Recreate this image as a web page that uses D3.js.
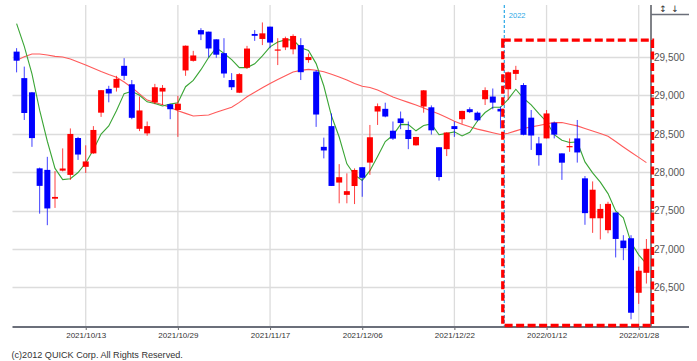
<!DOCTYPE html>
<html><head><meta charset="utf-8">
<script src="https://cdn.jsdelivr.net/npm/d3@7"></script>
<style>html,body{margin:0;padding:0;background:#fff;}svg{display:block}</style>
</head><body>
<svg id="c" width="697" height="361"></svg>
<script>
const dates = ["2021/09/30",
"2021/10/01","2021/10/04","2021/10/05","2021/10/06","2021/10/07","2021/10/08","2021/10/11","2021/10/12","2021/10/13","2021/10/14","2021/10/15","2021/10/18","2021/10/19","2021/10/20","2021/10/21","2021/10/22","2021/10/25","2021/10/26","2021/10/27","2021/10/28","2021/10/29",
"2021/11/01","2021/11/02","2021/11/04","2021/11/05","2021/11/08","2021/11/09","2021/11/10","2021/11/11","2021/11/12","2021/11/15","2021/11/16","2021/11/17","2021/11/18","2021/11/19","2021/11/22","2021/11/24","2021/11/25","2021/11/26","2021/11/29","2021/11/30",
"2021/12/01","2021/12/02","2021/12/03","2021/12/06","2021/12/07","2021/12/08","2021/12/09","2021/12/10","2021/12/13","2021/12/14","2021/12/15","2021/12/16","2021/12/17","2021/12/20","2021/12/21","2021/12/22","2021/12/23","2021/12/24","2021/12/27","2021/12/28","2021/12/29","2021/12/30",
"2022/01/04","2022/01/05","2022/01/06","2022/01/07","2022/01/11","2022/01/12","2022/01/13","2022/01/14","2022/01/17","2022/01/18","2022/01/19","2022/01/20","2022/01/21","2022/01/24","2022/01/25","2022/01/26","2022/01/27","2022/01/28","2022/01/31"];

const open = [29570,29225,29040,28050,28030,27655,28020,27965,28445,28070,28245,28775,29085,29100,29385,29145,28565,28505,28910,29050,28885,28810,
29325,29450,29850,29830,29730,29550,29200,29035,29360,29800,29735,29895,29585,29625,29600,29655,29460,29310,28330,28600,
27865,27705,27820,28065,28125,28790,28825,28540,28700,28550,28350,28855,28845,28325,28300,28600,28690,28820,28775,28950,28985,28825,
29080,29280,29135,28710,28375,28440,28645,28245,28325,28440,27920,27400,27400,27245,27475,27110,27140,26430,26690];
const high = [29615,29375,29045,28060,28200,28015,28310,28570,28460,28350,28600,29070,29125,29255,29485,29200,28985,28660,29150,29135,28890,28995,
29650,29580,29875,29830,29730,29745,29290,29290,29645,29850,29950,29895,29745,29765,29795,29745,29545,29330,28450,28765,
28105,27985,28050,28065,28615,28895,28905,28660,28790,28660,28460,29070,28870,28325,28520,28660,28800,28845,28790,29105,29090,28855,
29310,29385,29160,28810,28460,28810,28660,28245,28440,28680,27950,27880,27585,27615,27475,27180,27180,26770,27130];
const low = [29300,28680,28330,27460,27310,27535,28010,27900,28160,27990,28240,28720,28910,29050,29200,28690,28535,28475,28885,28875,28690,28460,
29255,29440,29720,29495,29490,29230,29070,29030,29345,29710,29655,29615,29395,29590,29535,29200,29425,28590,28180,27820,
27595,27595,27585,27680,27965,28615,28715,28420,28560,28300,28345,28775,28490,27890,28210,28460,28630,28770,28660,28875,28820,28570,
28940,29200,28480,28290,28085,28440,28440,27900,28265,28125,27315,27210,27125,27205,26890,26855,26085,26285,26550];
const close = [29452,28771,28444,27822,27528,27678,28048,28498,28230,28140,28550,29068,29025,29215,29255,28708,28804,28600,29106,29098,28820,28892,
29647,29520,29794,29611,29530,29285,29106,29277,29610,29776,29808,29688,29598,29745,29774,29302,29499,28751,28283,27821,
27935,27753,28029,27927,28455,28860,28725,28437,28640,28432,28459,29066,28545,27937,28517,28562,28798,28782,28676,29069,28906,28791,
29301,29332,28487,28478,28222,28765,28489,28124,28340,28257,27467,27772,27522,27588,27131,27011,26170,26717,27002];
const ma5 = [29934,29638,29279,28807,28403,28049,27904,27915,27996,28119,28293,28497,28603,28800,29023,29054,29001,28916,28895,28863,28886,28903,
29113,29195,29335,29493,29620,29548,29465,29362,29362,29411,29515,29632,29696,29723,29723,29621,29584,29414,29122,28731,
28458,28109,27964,27893,28020,28205,28399,28481,28623,28619,28539,28607,28628,28488,28505,28525,28472,28519,28667,28777,28846,28845,
28949,29080,28963,28878,28764,28657,28488,28416,28387,28394,28134,27991,27870,27721,27496,27405,27084,26923,26806];
const ma25 = [29456,29504,29539,29539,29527,29508,29500,29475,29435,29396,29354,29312,29273,29237,29174,29103,29020,28939,28909,28879,28843,28800,
28766,28732,28738,28745,28780,28813,28845,28909,28983,29040,29099,29155,29206,29255,29305,29326,29339,29328,29307,29276,
29241,29199,29156,29119,29102,29070,29026,28980,28944,28909,28875,28837,28797,28758,28711,28663,28624,28591,28561,28538,28514,28491,
28508,28538,28569,28590,28609,28629,28648,28646,28624,28603,28570,28537,28503,28469,28399,28328,28260,28193,28125];
const yTicks = [26500,27000,27500,28000,28500,29000,29500];
const xTickLabels = ["2021/10/13","2021/10/29","2021/11/17","2021/12/06","2021/12/22","2022/01/12","2022/01/28"];
const yearLabel = "2022";
const yearStart = "2022/01/04";
const highlightStart = "2022/01/04";
const highlightTop = 29720;
const copyright = "(c)2012 QUICK Corp. All Rights Reserved.";

const svg = d3.select("#c");
svg.append("rect").attr("width",697).attr("height",361).attr("fill","#fff");
const P = {left:12.5, right:651, top:5, bottom:327, axisEnd:689};
const x = d3.scalePoint().domain(dates).range([16.6, 646.4]);
const step = x.step();
const y = d3.scaleLinear().domain([26500,29500]).range([287.4,57]);

// grid
const g = svg.append("g");
g.selectAll("line.h").data(yTicks).enter().append("line")
  .attr("x1",P.left).attr("x2",P.right).attr("y1",d=>Math.round(y(d))+0.5).attr("y2",d=>Math.round(y(d))+0.5)
  .attr("stroke","#dcdcdc").attr("stroke-width",1.3);
g.selectAll("line.v").data(xTickLabels).enter().append("line")
  .attr("x1",d=>x(d)).attr("x2",d=>x(d)).attr("y1",P.top).attr("y2",P.bottom)
  .attr("stroke","#dcdcdc").attr("stroke-width",1.3);

// year divider
const yx = x(yearStart) - step/2;
svg.append("line").attr("x1",yx).attr("x2",yx).attr("y1",P.top).attr("y2",P.bottom)
  .attr("stroke","#2aa8e6").attr("stroke-width",1.2).attr("stroke-dasharray","3,2");
svg.append("text").attr("x",yx+4.5).attr("y",17.5).text(yearLabel)
  .attr("font-family","Liberation Sans, Arial, sans-serif").attr("font-size",7.5).attr("fill","#2aa8e6");

// moving averages
const line = d3.line().x((d,i)=>x(dates[i])).y(d=>y(d));
svg.append("path").attr("d",line(ma25)).attr("fill","none").attr("stroke","#ff5a5a").attr("stroke-width",1.1);
svg.append("path").attr("d",line(ma5)).attr("fill","none").attr("stroke","#3aa535").attr("stroke-width",1.1);

// candles
const cg = svg.append("g");
dates.forEach((d,i)=>{
  const up = close[i] >= open[i];
  const col = up ? "#ff0000" : "#0000ff";
  const cx = x(d);
  cg.append("line").attr("x1",cx).attr("x2",cx).attr("y1",y(high[i])).attr("y2",y(low[i]))
    .attr("stroke",col).attr("stroke-width",1).attr("stroke-opacity",0.75);
  const t = y(Math.max(open[i],close[i])), b = y(Math.min(open[i],close[i]));
  cg.append("rect").attr("x",cx-3).attr("width",6).attr("y",t).attr("height",Math.max(1.2,b-t)).attr("fill",col);
});

// right axis
const ra = svg.append("g").attr("transform",`translate(${P.right},0)`)
  .call(d3.axisRight(y).tickValues(yTicks).tickFormat(d3.format(",")).tickSize(3).tickPadding(0));
ra.select(".domain").remove();
ra.selectAll("line").attr("stroke","#555");
ra.selectAll("text").attr("font-family","Liberation Sans, Arial, sans-serif").attr("font-size",10).attr("fill","#555");
svg.append("line").attr("x1",P.right).attr("x2",P.right).attr("y1",P.top).attr("y2",P.bottom)
  .attr("stroke","#3c3f48").attr("stroke-width",1.3);
svg.append("line").attr("x1",P.right).attr("x2",P.axisEnd).attr("y1",14.5).attr("y2",14.5)
  .attr("stroke","#6b6f7a").attr("stroke-width",1.3);
svg.append("text").attr("x",663).attr("y",12).attr("text-anchor","middle").text("↕")
  .attr("font-family","DejaVu Sans, sans-serif").attr("font-size",9).attr("fill","#333");
svg.append("text").attr("x",675).attr("y",12).attr("text-anchor","middle").text("↓")
  .attr("font-family","DejaVu Sans, sans-serif").attr("font-size",9).attr("fill","#333");

// bottom axis
const ba = svg.append("g").attr("transform",`translate(0,${P.bottom})`)
  .call(d3.axisBottom(x).tickValues(xTickLabels).tickSize(3).tickPadding(2));
ba.select(".domain").remove();
ba.selectAll("line").attr("stroke","#666");
ba.selectAll("text").attr("font-family","Liberation Sans, Arial, sans-serif").attr("font-size",8).attr("fill","#333");
svg.append("line").attr("x1",P.left).attr("x2",P.axisEnd).attr("y1",P.bottom).attr("y2",P.bottom)
  .attr("stroke","#6b6f7a").attr("stroke-width",1.8);

// highlight box
const hx = x(highlightStart) - step*0.7;
svg.append("rect").attr("x",hx).attr("y",y(highlightTop)).attr("width",P.right+1.5-hx).attr("height",P.bottom-1.5-y(highlightTop))
  .attr("fill","none").attr("stroke","#ff0000").attr("stroke-width",3.3).attr("stroke-dasharray","8,3.5");

// copyright
svg.append("text").attr("x",11.5).attr("y",358).text(copyright)
  .attr("font-family","Liberation Sans, Arial, sans-serif").attr("font-size",9.1).attr("fill","#333");
</script>
</body></html>
